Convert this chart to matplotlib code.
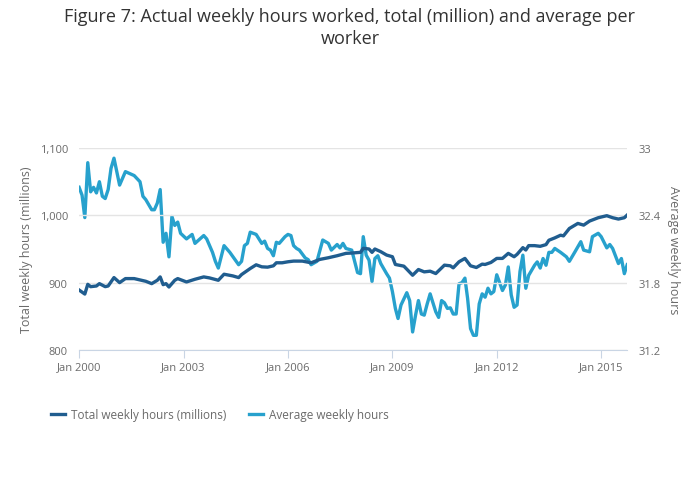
import numpy as np
import matplotlib
matplotlib.use("Agg")
import matplotlib.pyplot as plt
import matplotlib.dates as mdates

plt.rcParams["font.family"] = ["Open Sans", "DejaVu Sans"]

# ---------------- data (months counted from Jan 2000) ----------------
total_months = [0, 2, 3, 4, 6, 7, 9, 10, 12, 14, 16, 19, 23, 25, 27, 28, 29, 30, 31, 33,
                34, 37, 40, 43, 45, 48, 50, 53, 55, 56, 59, 61, 63, 65, 67, 68, 70, 72, 74, 77,
                80, 83, 86, 89, 92, 94, 97, 98, 100, 101, 102, 104, 106, 108, 109, 112, 113, 115, 117, 119,
                121, 123, 126, 128, 129, 131, 133, 135, 137, 139, 140, 142, 144, 146, 148, 150, 151, 153, 154, 155,
                157, 159, 161, 162, 164, 166, 167, 169, 172, 174, 176, 179, 182, 184, 186, 188, 189]
total_hours = [889, 883, 897.5, 894, 895, 898.5, 894, 895, 907.5, 900, 906, 906, 902, 898.5, 903.5, 908.5, 897, 898.5, 893.5, 903.5,
               906, 901, 905, 908.5, 907, 903.5, 912.5, 910, 907.5, 912, 921, 926.5, 923.5, 923, 925, 929.5, 929.5, 931, 932, 932,
               929.5, 934.5, 937, 940, 943.5, 944, 945, 951, 950, 945, 950, 946, 941, 938.5, 927, 924.5, 920, 911, 919.5, 916,
               917, 913.5, 926, 925, 922, 931, 936, 925, 922.5, 927.5, 927, 930, 936, 936, 943.5, 938.5, 942, 952, 948.5, 955,
               955, 954, 956.5, 963, 966.5, 970.5, 969.5, 980.5, 988, 985.5, 991.5, 996.5, 999.5, 996.5, 994.5, 996.5, 1000.5]

avg_months = [0, 1, 2, 3, 4, 5, 6, 7, 8, 9, 10, 11, 12, 14, 16, 19, 21, 22, 23, 25,
              26, 27, 28, 29, 30, 31, 32, 33, 34, 35, 37, 39, 40, 43, 44, 46, 47, 48, 50, 52,
              55, 56, 57, 58, 59, 61, 63, 64, 65, 66, 67, 68, 69, 71, 72, 73, 74, 75, 76, 78,
              79, 80, 82, 84, 86, 87, 89, 90, 91, 92, 94, 95, 96, 97, 98, 99, 100, 101, 102, 103,
              104, 106, 107, 108, 109, 110, 111, 113, 114, 115, 116, 117, 118, 119, 120, 121, 123, 124, 125, 126,
              127, 128, 129, 130, 131, 132, 133, 134, 135, 136, 137, 138, 139, 140, 141, 142, 143, 144, 146, 147,
              148, 149, 150, 151, 152, 153, 154, 155, 157, 158, 159, 160, 161, 162, 163, 164, 166, 168, 169, 171,
              173, 174, 176, 177, 179, 180, 182, 183, 184, 186, 187, 188, 189]
avg_hours = [32.65, 32.58, 32.38, 32.87, 32.61, 32.65, 32.60, 32.70, 32.57, 32.55, 32.63, 32.82, 32.91, 32.67, 32.79, 32.755, 32.70, 32.57, 32.54, 32.45,
             32.45, 32.51, 32.63, 32.16, 32.24, 32.03, 32.39, 32.31, 32.34, 32.24, 32.19, 32.23, 32.15, 32.22, 32.19, 32.07, 31.99, 31.93, 32.13, 32.07,
             31.96, 31.99, 32.13, 32.15, 32.25, 32.23, 32.15, 32.17, 32.105, 32.09, 32.04, 32.16, 32.15, 32.21, 32.23, 32.22, 32.13, 32.105, 32.09, 32.02,
             32.005, 31.96, 31.99, 32.18, 32.15, 32.09, 32.14, 32.11, 32.15, 32.105, 32.09, 31.99, 31.89, 31.88, 32.21, 32.045, 32.0, 31.81, 32.015, 32.04,
             31.97, 31.88, 31.84, 31.72, 31.57, 31.48, 31.60, 31.71, 31.64, 31.36, 31.51, 31.64, 31.52, 31.51, 31.61, 31.70, 31.54, 31.49, 31.64, 31.62,
             31.57, 31.575, 31.52, 31.52, 31.79, 31.80, 31.84, 31.66, 31.39, 31.33, 31.33, 31.61, 31.70, 31.67, 31.75, 31.70, 31.72, 31.87, 31.73, 31.78,
             31.94, 31.69, 31.58, 31.60, 31.90, 32.045, 31.75, 31.865, 31.955, 31.985, 31.93, 32.015, 31.955, 32.07, 32.07, 32.105, 32.07, 32.03, 31.99, 32.075,
             32.165, 32.09, 32.075, 32.21, 32.24, 32.21, 32.11, 32.14, 32.105, 31.97, 32.015, 31.88, 31.96]

tick_years = [2000, 2003, 2006, 2009, 2012, 2015]

start = np.datetime64("2000-01", "M")
total_dates = (start + np.array(total_months)).astype("datetime64[D]")
avg_dates = (start + np.array(avg_months)).astype("datetime64[D]")
tick_dates = [np.datetime64(f"{y}-01-01") for y in tick_years]

dark = "#205d8f"
light = "#27a1cd"
grey = "#6a6a6a"

fig = plt.figure(figsize=(7.0, 5.02), dpi=100)
ax = fig.add_axes([0.113, 0.301, 0.783, 0.402])
ax2 = ax.twinx()

l1, = ax.plot(total_dates, total_hours, color=dark, lw=2.4, solid_joinstyle="round", zorder=3)
l2, = ax2.plot(avg_dates, avg_hours, color=light, lw=2.4, solid_joinstyle="round", zorder=2)
ax.set_zorder(ax2.get_zorder() + 1)
ax.patch.set_visible(False)

ax.set_ylim(800, 1100)
ax.set_yticks([800, 900, 1000, 1100])
ax.set_yticklabels(["800", "900", "1,000", "1,100"])
ax2.set_ylim(31.2, 33.0)
ax2.set_yticks([31.2, 31.8, 32.4, 33.0])
ax2.set_yticklabels(["31.2", "31.8", "32.4", "33"])

ax.set_xlim(np.datetime64("2000-01-01"), avg_dates[-1])
ax.set_xticks(tick_dates)
ax.xaxis.set_major_formatter(mdates.DateFormatter("Jan %Y"))

ax.grid(axis="y", color="#e4e4e4", lw=1)
for a in (ax, ax2):
    for s in a.spines.values():
        s.set_visible(False)
    a.tick_params(axis="y", length=0, labelsize=8, labelcolor=grey, pad=8)
ax.spines["bottom"].set_visible(True)
ax.spines["bottom"].set_color("#c9d5e4")
ax.tick_params(axis="x", length=6, color="#c9d5e4", labelsize=8, labelcolor=grey, pad=2)

ax.set_ylabel("Total weekly hours (millions)", fontsize=9, color=grey, labelpad=5)
ax2.set_ylabel("Average weekly hours", fontsize=9, color=grey, rotation=270, labelpad=14)

fig.suptitle("Figure 7: Actual weekly hours worked, total (million) and average per\nworker",
             fontsize=13, color="#333333", y=0.985, linespacing=1.3)

fig.legend([l1, l2], ["Total weekly hours (millions)", "Average weekly hours"],
           loc="center left", bbox_to_anchor=(0.058, 0.172), ncol=2, frameon=False,
           fontsize=8.5, labelcolor=grey, handlelength=1.2, columnspacing=1.9, handletextpad=0.5)

fig.savefig("out.png", dpi=100)
